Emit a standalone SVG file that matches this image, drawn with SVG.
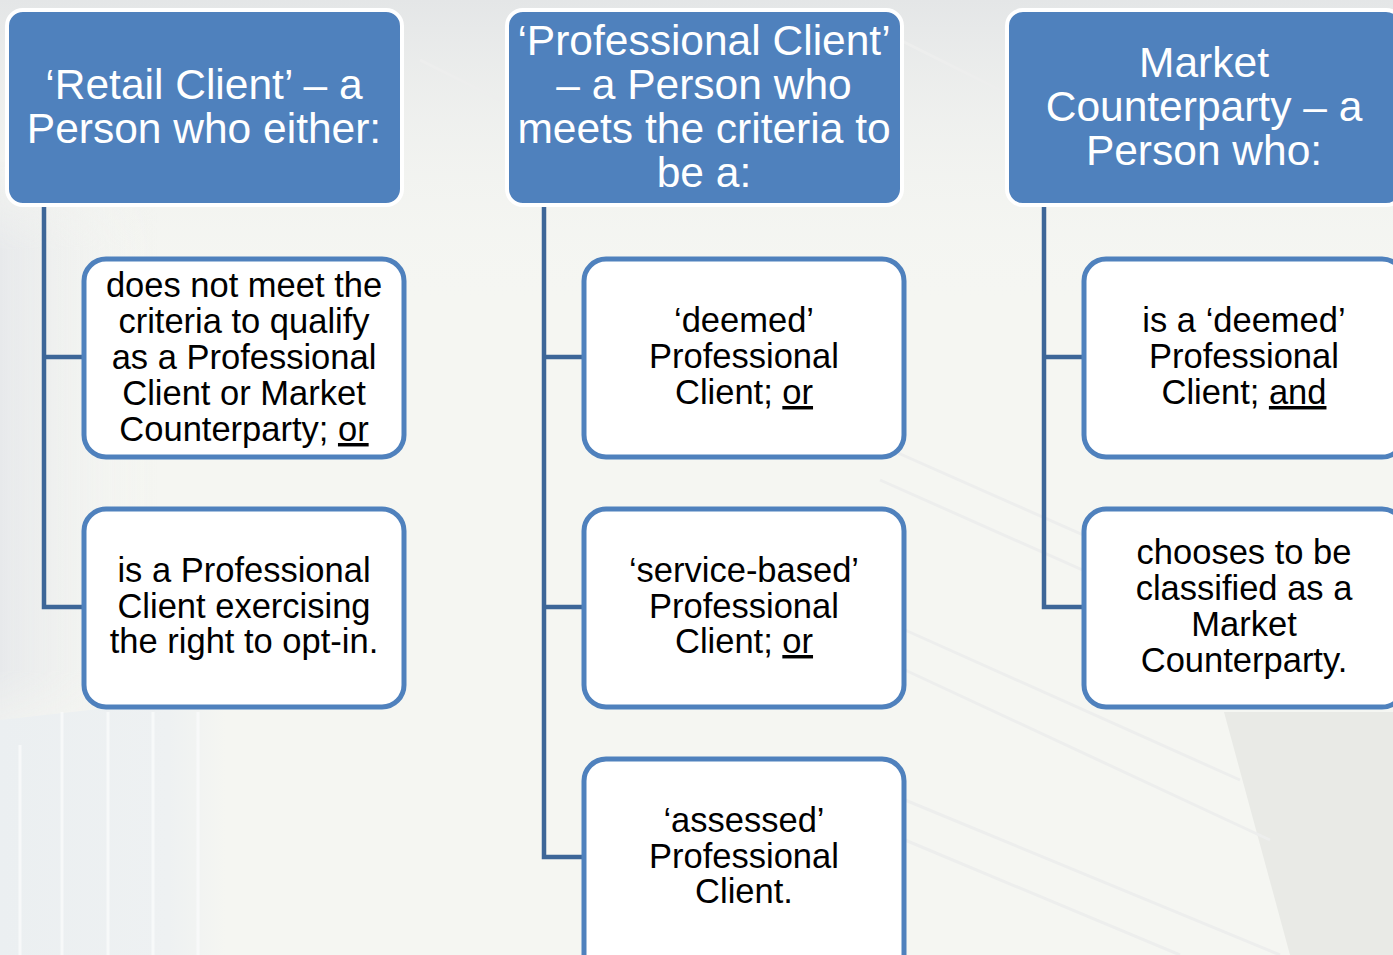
<svg xmlns="http://www.w3.org/2000/svg" width="1393" height="955" viewBox="0 0 1393 955">
  <style>
    .head rect { fill: #4F81BD; stroke: #FFFFFF; stroke-width: 4; }
    .head text { font-family: "Liberation Sans", Arial, sans-serif; font-size: 42.5px; fill: #FFFFFF; text-anchor: middle; }
    .item rect { fill: #FFFFFF; stroke: #4F81BD; stroke-width: 5; }
    .item text { font-family: "Liberation Sans", Arial, sans-serif; font-size: 34.5px; fill: #000000; text-anchor: middle; }
    .u { text-decoration: underline; }
    #connectors path { fill: none; stroke: #3D6698; stroke-width: 4.5; stroke-linejoin: miter; }
  </style>
  <defs>
    <linearGradient id="topShade" x1="0" y1="0" x2="0" y2="1">
      <stop offset="0" stop-color="#E4E6E7"/>
      <stop offset="1" stop-color="#F4F5F2" stop-opacity="0"/>
    </linearGradient>
    <linearGradient id="leftShade" x1="0" y1="0" x2="1" y2="0">
      <stop offset="0" stop-color="#E7E9EB"/>
      <stop offset="1" stop-color="#F4F5F2" stop-opacity="0"/>
    </linearGradient>
    <linearGradient id="leftFade" x1="0" y1="0" x2="0" y2="1">
      <stop offset="0" stop-color="#FFFFFF" stop-opacity="0"/>
      <stop offset="0.15" stop-color="#FFFFFF" stop-opacity="1"/>
      <stop offset="0.85" stop-color="#FFFFFF" stop-opacity="1"/>
      <stop offset="1" stop-color="#FFFFFF" stop-opacity="0"/>
    </linearGradient>
    <linearGradient id="stripeFade" x1="0" y1="0" x2="1" y2="0">
      <stop offset="0" stop-color="#EBEFF1"/>
      <stop offset="0.75" stop-color="#EEF1F2"/>
      <stop offset="1" stop-color="#F5F6F2"/>
    </linearGradient>
    <mask id="leftMask">
      <rect x="0" y="160" width="160" height="600" fill="url(#leftFade)"/>
    </mask>
  </defs>

  <!-- faint building backdrop -->
  <g id="backdrop">
    <rect x="0" y="0" width="1393" height="955" fill="#F5F6F2"/>
    <rect x="0" y="0" width="1393" height="300" fill="url(#topShade)"/>
    <rect x="0" y="160" width="160" height="600" fill="url(#leftShade)" mask="url(#leftMask)"/>
    <polygon points="0,720 180,700 225,700 225,955 0,955" fill="url(#stripeFade)"/>
    <g stroke="#F9FAFA" stroke-width="3" opacity="0.9">
      <line x1="20" y1="745" x2="20" y2="955"/>
      <line x1="62" y1="712" x2="62" y2="955"/>
      <line x1="108" y1="712" x2="108" y2="955"/>
      <line x1="153" y1="712" x2="153" y2="955"/>
      <line x1="198" y1="712" x2="198" y2="955"/>
    </g>
    <polygon points="1224,712 1393,712 1393,955 1290,955" fill="#E9EAE6"/>
    <g stroke="#EDEEED" stroke-width="3" fill="none">
      <line x1="880" y1="445" x2="1230" y2="600"/>
      <line x1="880" y1="480" x2="1240" y2="640"/>
      <line x1="905" y1="630" x2="1240" y2="780"/>
      <line x1="905" y1="670" x2="1270" y2="840"/>
      <line x1="905" y1="800" x2="1280" y2="955"/>
      <line x1="905" y1="840" x2="1180" y2="955"/>
      <line x1="900" y1="40" x2="1000" y2="90"/>
      <line x1="420" y1="60" x2="500" y2="100"/>
    </g>
  </g>

  <!-- tree connectors -->
  <g id="connectors">
    <path d="M44 205 V607 H84 M44 357 H84"/>
    <path d="M544 205 V857 H584 M544 357 H584 M544 607 H584"/>
    <path d="M1044 205 V607 H1084 M1044 357 H1084"/>
  </g>

  <!-- column headers -->
  <g id="retail-head" class="head">
    <rect x="7" y="10" width="395" height="195" rx="16"/>
    <text x="204" y="99">‘Retail Client’ – a</text>
    <text x="204" y="143">Person who either:</text>
  </g>
  <g id="professional-head" class="head">
    <rect x="507" y="10" width="395" height="195" rx="16"/>
    <text x="704" y="55">‘Professional Client’</text>
    <text x="704" y="99">– a Person who</text>
    <text x="704" y="143">meets the criteria to</text>
    <text x="704" y="187">be a:</text>
  </g>
  <g id="counterparty-head" class="head">
    <rect x="1007" y="10" width="395" height="195" rx="16"/>
    <text x="1204" y="77">Market</text>
    <text x="1204" y="121">Counterparty – a</text>
    <text x="1204" y="165">Person who:</text>
  </g>

  <!-- retail criteria -->
  <g id="retail-1" class="item">
    <rect x="84" y="259" width="320" height="198" rx="22"/>
    <text x="244" y="297">does not meet the</text>
    <text x="244" y="333">criteria to qualify</text>
    <text x="244" y="369">as a Professional</text>
    <text x="244" y="405">Client or Market</text>
    <text x="244" y="441">Counterparty; <tspan class="u">or</tspan></text>
  </g>
  <g id="retail-2" class="item">
    <rect x="84" y="509" width="320" height="198" rx="22"/>
    <text x="244" y="582">is a Professional</text>
    <text x="244" y="618">Client exercising</text>
    <text x="244" y="653">the right to opt-in.</text>
  </g>

  <!-- professional criteria -->
  <g id="professional-1" class="item">
    <rect x="584" y="259" width="320" height="198" rx="22"/>
    <text x="744" y="332">‘deemed’</text>
    <text x="744" y="368">Professional</text>
    <text x="744" y="404">Client; <tspan class="u">or</tspan></text>
  </g>
  <g id="professional-2" class="item">
    <rect x="584" y="509" width="320" height="198" rx="22"/>
    <text x="744" y="582">‘service-based’</text>
    <text x="744" y="618">Professional</text>
    <text x="744" y="653">Client; <tspan class="u">or</tspan></text>
  </g>
  <g id="professional-3" class="item">
    <rect x="584" y="759" width="320" height="230" rx="22"/>
    <text x="744" y="832">‘assessed’</text>
    <text x="744" y="868">Professional</text>
    <text x="744" y="903">Client.</text>
  </g>

  <!-- counterparty criteria -->
  <g id="counterparty-1" class="item">
    <rect x="1084" y="259" width="320" height="198" rx="22"/>
    <text x="1244" y="332">is a ‘deemed’</text>
    <text x="1244" y="368">Professional</text>
    <text x="1244" y="404">Client; <tspan class="u">and</tspan></text>
  </g>
  <g id="counterparty-2" class="item">
    <rect x="1084" y="509" width="320" height="198" rx="22"/>
    <text x="1244" y="564">chooses to be</text>
    <text x="1244" y="600">classified as a</text>
    <text x="1244" y="636">Market</text>
    <text x="1244" y="672">Counterparty.</text>
  </g>
</svg>
